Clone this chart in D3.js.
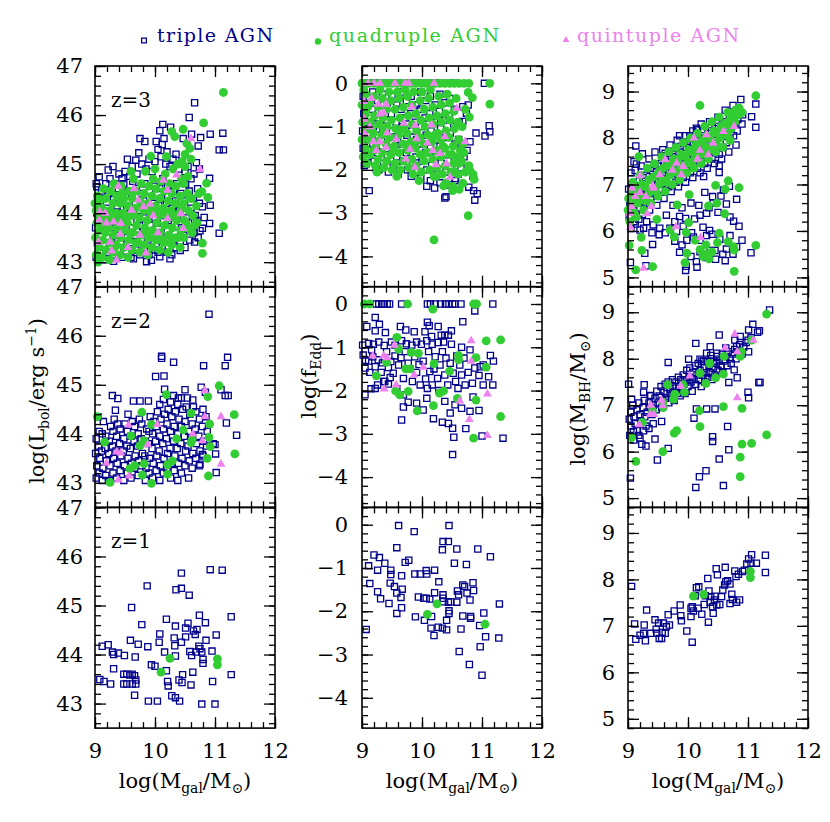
<!DOCTYPE html>
<html>
<head>
<meta charset="utf-8">
<script src="https://cdn.jsdelivr.net/npm/d3@7"></script>
<style>
body { margin: 0; background: #fff; }
text { font-family: "DejaVu Serif", serif; }
</style>
</head>
<body>
<svg width="830" height="822"></svg>
<script>
// ---- data: [log Mgal, value] ----

// z=3, log Lbol
const z3LbolTri = [
  [10.66,46.25],[10.57,45.95],[10.13,45.81],[10.26,45.75],[10.08,45.68],[9.75,45.52],[9.83,45.46],[10.02,45.46],
  [10.15,45.52],[10.47,45.52],[10.61,45.61],[10.76,45.54],[10.92,45.61],[11.13,45.63],[11.07,45.29],[11.14,45.29],
  [10.72,45.37],[9.73,45.23],[9.54,45.10],[9.68,45.08],[10.69,45.03],[10.74,44.90],[10.91,44.71],[10.79,44.13],
  [10.92,44.16],[10.82,43.91],[10.91,43.79],[10.79,43.69],[10.75,43.64],[11.07,43.59],[10.66,43.41],[10.42,43.24],
  [9.86,43.01],[9.94,43.04],[9.31,43.02],[9.64,43.07],[10.08,43.11],[10.25,43.07],[9.07,44.74],[9.22,44.88],[9.03,44.54],
  [9.30,44.95],[9.40,44.80],[9.45,44.70],[9.50,44.85],[9.58,44.75],[9.62,44.95],[9.70,44.80],[9.78,45.00],[9.85,44.90],
  [9.90,45.10],[9.95,44.85],[10.00,45.05],[10.05,45.30],[10.10,45.15],[10.12,45.40],[10.18,45.00],[10.20,45.25],
  [10.25,44.95],[10.30,45.10],[10.35,45.20],[10.40,44.90],[10.45,45.05],[10.50,44.85],[10.55,44.95],[10.60,44.70],[10.65,44.80],
  [9.02,43.1],[9.04,43.4],[9.01,43.7],[9.03,44.0],[9.05,44.3],[9.02,44.6],
  [9.08,43.2],[9.10,43.55],[9.07,43.85],[9.09,44.15],[9.11,44.45],
  [9.15,43.05],[9.14,43.35],[9.17,43.65],[9.16,44.0],[9.13,44.3],[9.18,44.6],
  [9.22,43.2],[9.20,43.5],[9.24,43.8],[9.21,44.1],[9.23,44.4],[9.25,44.7],
  [9.30,43.1],[9.28,43.4],[9.32,43.7],[9.29,44.0],[9.31,44.3],[9.33,44.6],
  [9.38,43.25],[9.36,43.55],[9.40,43.85],[9.37,44.15],[9.39,44.5],
  [9.45,43.1],[9.43,43.4],[9.47,43.7],[9.44,44.0],[9.46,44.3],[9.48,44.6],
  [9.52,43.2],[9.54,43.5],[9.51,43.8],[9.53,44.1],[9.55,44.45],
  [9.60,43.1],[9.58,43.4],[9.62,43.7],[9.59,44.0],[9.61,44.35],[9.63,44.65],
  [9.68,43.25],[9.66,43.55],[9.70,43.85],[9.67,44.2],[9.69,44.5],
  [9.75,43.15],[9.77,43.45],[9.74,43.75],[9.76,44.05],[9.78,44.4],
  [9.82,43.3],[9.80,43.6],[9.84,43.9],[9.81,44.25],[9.83,44.6],
  [9.90,43.15],[9.88,43.45],[9.92,43.75],[9.89,44.1],[9.91,44.45],
  [9.98,43.25],[9.96,43.55],[10.00,43.9],[9.97,44.2],[9.99,44.55],
  [10.05,43.2],[10.07,43.5],[10.04,43.8],[10.06,44.15],[10.08,44.5],
  [10.12,43.3],[10.10,43.6],[10.14,43.95],[10.11,44.3],[10.13,44.7],
  [10.20,43.2],[10.18,43.5],[10.22,43.85],[10.19,44.2],[10.21,44.55],
  [10.28,43.15],[10.30,43.45],[10.27,43.8],[10.29,44.1],[10.31,44.45],
  [10.35,43.3],[10.33,43.6],[10.37,43.9],[10.34,44.25],[10.36,44.6],
  [10.42,43.4],[10.44,43.7],[10.41,44.05],[10.43,44.4],
  [10.50,43.3],[10.48,43.55],[10.52,43.9],[10.49,44.25],[10.51,44.6],
  [10.58,43.45],[10.56,43.8],[10.60,44.1],[10.57,44.45],
  [10.65,43.6],[10.67,43.95],[10.64,44.3],
  [10.72,43.5],[10.70,43.85],[10.74,44.2],[10.71,44.5]
];
const z3LbolQuad = [
  [11.14,46.46],[10.81,45.84],[10.47,45.71],[10.33,45.56],[10.28,45.66],[9.93,45.16],[10.19,45.15],[10.53,45.42],
  [10.58,45.32],[10.50,45.20],[10.45,45.05],[10.60,45.10],[10.86,44.61],[10.78,44.44],[10.88,44.32],[11.14,43.73],
  [10.79,43.39],[10.79,43.18],[9.00,44.20],
  [9.02,43.15],[9.01,43.5],[9.03,43.8],[9.02,44.05],[9.04,44.35],
  [9.07,43.3],[9.08,43.65],[9.06,43.95],[9.08,44.25],
  [9.12,43.1],[9.13,43.45],[9.11,43.75],[9.12,44.1],[9.14,44.5],
  [9.18,43.25],[9.17,43.6],[9.19,43.9],[9.18,44.3],
  [9.24,43.05],[9.25,43.4],[9.23,43.7],[9.24,44.05],[9.26,44.45],
  [9.30,43.2],[9.31,43.55],[9.29,43.85],[9.30,44.2],[9.32,44.6],
  [9.36,43.35],[9.37,43.7],[9.35,44.0],[9.36,44.35],
  [9.42,43.15],[9.43,43.5],[9.41,43.85],[9.42,44.2],[9.44,44.55],
  [9.48,43.3],[9.49,43.65],[9.47,44.0],[9.48,44.3],
  [9.55,43.1],[9.56,43.45],[9.54,43.8],[9.55,44.15],[9.57,44.45],
  [9.62,43.25],[9.63,43.6],[9.61,43.95],[9.62,44.3],[9.64,44.7],
  [9.68,43.4],[9.69,43.75],[9.67,44.1],[9.68,44.45],
  [9.75,43.2],[9.76,43.55],[9.74,43.9],[9.75,44.25],[9.77,44.6],
  [9.82,43.35],[9.83,43.7],[9.81,44.05],[9.82,44.4],[9.84,44.85],
  [9.88,43.15],[9.89,43.5],[9.87,43.85],[9.88,44.2],[9.90,44.55],
  [9.95,43.3],[9.96,43.65],[9.94,44.0],[9.95,44.35],[9.97,44.7],
  [10.02,43.45],[10.03,43.8],[10.01,44.15],[10.02,44.5],
  [10.08,43.25],[10.09,43.6],[10.07,43.95],[10.08,44.3],[10.10,44.65],
  [10.15,43.4],[10.16,43.75],[10.14,44.1],[10.15,44.45],[10.17,44.8],
  [10.22,43.2],[10.23,43.55],[10.21,43.9],[10.22,44.25],[10.24,44.6],
  [10.28,43.35],[10.29,43.7],[10.27,44.05],[10.28,44.4],[10.30,44.9],
  [10.35,43.5],[10.36,43.85],[10.34,44.2],[10.35,44.55],
  [10.42,43.3],[10.43,43.65],[10.41,44.0],[10.42,44.35],[10.44,44.7],
  [10.48,43.5],[10.49,43.85],[10.47,44.2],[10.48,44.6],[10.50,44.95],
  [10.55,43.7],[10.56,44.05],[10.54,44.4],[10.55,44.75],
  [10.62,43.6],[10.63,43.95],[10.61,44.3],
  [10.70,43.8],[10.69,44.15],
  [9.05,43.0],[9.15,43.9],[9.27,43.95],[9.33,43.3],[9.45,44.4],[9.52,43.95],[9.59,43.6],[9.65,44.0],[9.72,43.4],
  [9.79,44.15],[9.85,43.6],[9.92,44.05],[9.99,43.5],[10.05,44.0],[10.12,43.45],[10.19,44.0],[10.25,43.4],[10.32,43.95],
  [10.39,43.5],[10.45,44.1],[10.52,43.8],[10.58,44.3],[10.66,43.75],[10.73,44.4],[9.60,44.85],[10.00,44.9],[10.38,45.0]
];
const z3LbolQuin = [
  [9.08,44.03],[9.07,43.86],[9.19,43.80],[9.31,43.82],[9.43,43.79],[9.42,43.57],[9.17,44.0],[9.39,44.55],[9.61,44.06],
  [9.72,44.27],[9.81,44.13],[9.92,44.18],[9.97,43.95],[9.75,43.55],[9.25,43.41],[9.28,43.23],[9.36,43.04],[9.85,43.19],
  [10.21,43.89],[10.36,44.78],[10.21,44.47],[10.14,44.67],[10.43,43.99],[10.47,43.69],[10.75,44.89],[10.60,45.52],
  [9.06,43.41],[9.55,43.3],[10.05,43.6],[9.65,44.5]
];

// z=3, log fEdd
const z3FeddTri = [
  [9.02,0],[9.08,0],[9.15,0],[9.22,0],[9.30,0],[9.38,0],[9.46,0],[9.55,0],[9.62,0],[9.70,0],[9.78,0],[9.85,0],
  [9.93,0],[10.00,0],[10.10,0],[10.20,0],[10.30,0],[10.45,0],[10.55,0],[11.04,0],
  [11.12,-0.98],[11.13,-1.12],[11.05,-1.22],[10.90,-1.15],[10.85,-2.15],[10.78,-2.40],[10.86,-2.48],[10.92,-2.55],
  [10.88,-2.70],[9.12,-2.48],[10.38,-2.65],[10.40,-2.62],[10.21,-2.42],[10.08,-2.38],[10.77,-0.50],[10.68,-0.54],
  [10.74,-0.69],[10.68,-0.88],[9.24,-1.98],[9.07,-1.86],[10.70,-1.70],[10.75,-1.55],[10.80,-1.35],[10.65,-1.95],
  [10.55,-2.25],[10.60,-2.10],
  [9.02,-0.3],[9.03,-0.7],[9.01,-1.1],[9.02,-1.5],[9.04,-1.9],
  [9.10,-0.5],[9.09,-0.9],[9.11,-1.3],[9.10,-1.7],
  [9.18,-0.2],[9.17,-0.6],[9.19,-1.0],[9.18,-1.4],[9.20,-1.8],
  [9.26,-0.4],[9.25,-0.8],[9.27,-1.2],[9.26,-1.6],[9.28,-2.0],
  [9.34,-0.25],[9.33,-0.65],[9.35,-1.05],[9.34,-1.45],[9.36,-1.85],
  [9.42,-0.45],[9.41,-0.85],[9.43,-1.25],[9.42,-1.65],[9.44,-2.05],
  [9.50,-0.3],[9.49,-0.7],[9.51,-1.1],[9.50,-1.5],[9.52,-1.9],
  [9.58,-0.5],[9.57,-0.9],[9.59,-1.3],[9.58,-1.7],[9.60,-2.1],
  [9.66,-0.2],[9.65,-0.6],[9.67,-1.0],[9.66,-1.4],[9.68,-1.8],
  [9.74,-0.4],[9.73,-0.8],[9.75,-1.2],[9.74,-1.6],[9.76,-2.0],
  [9.82,-0.3],[9.81,-0.7],[9.83,-1.1],[9.82,-1.5],[9.84,-1.9],[9.82,-2.15],
  [9.90,-0.5],[9.89,-0.9],[9.91,-1.3],[9.90,-1.7],[9.92,-2.05],
  [9.98,-0.2],[9.97,-0.6],[9.99,-1.0],[9.98,-1.4],[10.00,-1.8],[9.98,-2.2],
  [10.06,-0.4],[10.05,-0.8],[10.07,-1.2],[10.06,-1.6],[10.08,-2.0],
  [10.14,-0.3],[10.13,-0.7],[10.15,-1.1],[10.14,-1.5],[10.16,-1.9],[10.14,-2.25],
  [10.22,-0.5],[10.21,-0.9],[10.23,-1.3],[10.22,-1.7],[10.24,-2.1],
  [10.30,-0.25],[10.29,-0.65],[10.31,-1.05],[10.30,-1.45],[10.32,-1.85],[10.30,-2.3],
  [10.38,-0.45],[10.37,-0.85],[10.39,-1.25],[10.38,-1.65],[10.40,-2.05],
  [10.46,-0.35],[10.45,-0.75],[10.47,-1.15],[10.46,-1.55],[10.48,-1.95],[10.46,-2.35],
  [10.54,-0.6],[10.53,-1.0],[10.55,-1.4],[10.54,-1.8],[10.56,-2.2],
  [10.62,-0.9],[10.61,-1.3],[10.63,-1.7]
];
const z3FeddQuad = [
  [9.00,0],[9.05,0],[9.12,0],[9.20,0],[9.28,0],[9.35,0],[9.42,0],[9.50,0],[9.58,0],[9.66,0],[9.74,0],[9.82,0],
  [9.90,0],[9.98,0],[10.06,0],[10.14,0],[10.22,0],[10.30,0],[10.38,0],[10.46,0],[10.54,0],[10.62,0],[10.70,0],
  [10.78,0],[11.13,0],
  [11.13,-0.48],[10.77,-0.21],[10.84,-0.33],[10.79,-0.78],[10.78,-1.90],[10.80,-2.02],[10.85,-2.10],[10.87,-2.22],
  [10.68,-2.31],[10.51,-2.38],[10.51,-2.48],[10.36,-2.37],[10.24,-2.15],[10.77,-3.06],[10.20,-3.62],[10.62,-1.85],
  [10.70,-1.60],[10.55,-2.05],
  [9.00,-0.5],[9.01,-0.9],[9.00,-1.3],[9.02,-1.7],
  [9.06,-0.25],[9.07,-0.7],[9.05,-1.1],[9.06,-1.5],[9.08,-1.85],
  [9.13,-0.45],[9.14,-0.9],[9.12,-1.3],[9.13,-1.65],
  [9.20,-0.3],[9.21,-0.75],[9.19,-1.15],[9.20,-1.55],[9.22,-1.9],
  [9.27,-0.55],[9.28,-0.95],[9.26,-1.35],[9.27,-1.75],
  [9.34,-0.35],[9.35,-0.8],[9.33,-1.2],[9.34,-1.6],[9.36,-1.95],
  [9.41,-0.6],[9.42,-1.0],[9.40,-1.4],[9.41,-1.8],
  [9.48,-0.4],[9.49,-0.85],[9.47,-1.25],[9.48,-1.65],[9.50,-2.0],
  [9.55,-0.6],[9.56,-1.05],[9.54,-1.45],[9.55,-1.85],
  [9.62,-0.35],[9.63,-0.8],[9.61,-1.2],[9.62,-1.6],[9.64,-2.0],
  [9.69,-0.55],[9.70,-1.0],[9.68,-1.4],[9.69,-1.8],
  [9.76,-0.3],[9.77,-0.75],[9.75,-1.15],[9.76,-1.55],[9.78,-1.95],
  [9.83,-0.5],[9.84,-0.95],[9.82,-1.35],[9.83,-1.75],[9.85,-2.1],
  [9.90,-0.7],[9.91,-1.1],[9.89,-1.5],[9.90,-1.9],
  [9.97,-0.4],[9.98,-0.85],[9.96,-1.25],[9.97,-1.65],[9.99,-2.05],
  [10.04,-0.6],[10.05,-1.0],[10.03,-1.4],[10.04,-1.8],
  [10.11,-0.35],[10.12,-0.8],[10.10,-1.2],[10.11,-1.6],[10.13,-2.0],
  [10.18,-0.55],[10.19,-0.95],[10.17,-1.35],[10.18,-1.75],[10.20,-2.15],
  [10.25,-0.75],[10.26,-1.15],[10.24,-1.55],[10.25,-1.95],
  [10.32,-0.5],[10.33,-0.9],[10.31,-1.3],[10.32,-1.7],[10.34,-2.1],
  [10.39,-0.7],[10.40,-1.1],[10.38,-1.5],[10.39,-1.9],
  [10.46,-0.45],[10.47,-0.85],[10.45,-1.25],[10.46,-1.65],[10.48,-2.05],
  [10.53,-0.65],[10.54,-1.05],[10.52,-1.45],[10.53,-1.85],
  [10.60,-0.9],[10.61,-1.3],[10.59,-1.7],[10.60,-2.1],
  [10.67,-1.0],[10.68,-1.4],[10.66,-1.8],
  [9.03,-0.15],[9.09,-0.55],[9.16,-1.05],[9.23,-1.45],[9.30,-0.15],[9.37,-1.1],[9.45,-0.2],[9.52,-1.5],[9.59,-0.2],
  [9.66,-1.05],[9.72,-0.15],[9.79,-1.4],[9.86,-0.2],[9.93,-1.3],[10.00,-0.2],[10.07,-1.6],[10.14,-0.15],[10.21,-1.2],
  [10.28,-0.3],[10.35,-1.45],[10.42,-0.25],[10.50,-1.65],[10.57,-0.35],[10.64,-1.55],[10.72,-0.6],[9.25,-2.05],
  [9.58,-2.15],[9.95,-2.25],[10.40,-2.30],[10.62,-2.45],[10.72,-2.05]
];
const z3FeddQuin = [
  [9.10,0],[9.20,0],[9.30,0],[9.55,0],[9.72,0],[9.78,0],[10.20,0],[9.03,-0.42],[9.16,-0.35],[9.40,-0.48],[9.27,-0.48],
  [9.04,-0.83],[9.30,-0.71],[9.36,-0.68],[9.13,-1.0],[9.05,-1.17],[9.42,-1.14],[9.30,-1.35],[9.19,-1.35],[9.24,-1.55],
  [9.40,-1.48],[9.57,-1.29],[9.70,-0.92],[9.83,-0.54],[9.89,-0.97],[10.16,-0.96],[9.91,-1.28],[9.80,-1.52],[9.73,-1.75],
  [9.88,-1.94],[10.09,-1.38],[10.18,-1.55],[10.41,-1.86],[10.58,-0.58],[10.47,-2.17],[10.30,-1.62],[10.23,-1.88],
  [10.38,-1.23],[10.72,-1.35]
];

// z=3, log MBH
const z3MbhTri = [
  [10.88,8.83],[11.13,8.73],[11.06,8.46],[11.13,8.23],[10.75,8.70],[10.82,8.60],[9.13,7.83],[9.10,7.49],[9.14,7.44],
  [9.24,7.66],[9.86,8.05],[10.03,8.05],[10.14,8.21],[10.16,8.18],[9.62,7.67],
  [10.26,7.17],[10.28,6.83],[10.41,6.74],[10.59,6.88],[10.64,6.58],[10.81,6.68],[10.69,6.96],[10.52,7.40],[10.52,7.26],
  [10.76,6.21],[10.81,5.66],[11.05,5.53],[10.62,5.36],[10.46,5.39],[10.30,5.43],[10.15,5.22],[9.96,5.15],[9.97,5.24],
  [9.86,5.54],[9.41,5.71],[9.52,5.92],[9.28,5.52],[9.04,5.32],[9.30,5.25],[10.14,5.34],[10.31,5.48],[10.37,5.58],
  [10.45,5.58],[9.98,5.80],[10.09,5.87],[10.20,5.80],[10.31,5.90],[10.40,5.93],[10.53,5.82],[10.64,5.61],[9.64,6.34],
  [9.78,6.20],[9.86,6.31],[9.96,6.27],[10.11,6.26],[10.20,6.34],[10.31,6.38],[9.70,6.06],[9.81,5.99],[9.92,6.10],
  [9.53,6.06],[9.42,6.13],[9.31,6.20],[9.26,6.06],[9.20,6.02],[9.40,5.96],[9.62,5.96],[9.78,5.78],[10.06,5.96],
  [10.25,6.08],[10.36,6.01],[10.42,6.60],[10.50,6.40],[10.55,6.75],[10.35,6.50],[10.18,6.55],[10.05,6.60],[9.90,6.50],
  [9.75,6.55],[10.70,6.30],[10.85,6.10],[10.90,5.80],[10.70,5.90],[10.58,5.50],[10.75,5.50],[10.20,5.55],[10.05,5.45],[9.90,5.70],
  [9.05,6.05],[9.12,6.15],[9.18,6.25],
  [9.02,6.3],[9.03,6.6],[9.01,6.9],[9.08,6.45],[9.09,6.75],[9.07,7.0],[9.14,6.35],[9.15,6.65],[9.13,6.95],
  [9.20,6.5],[9.21,6.8],[9.19,7.1],[9.26,6.6],[9.27,6.9],[9.25,7.15],[9.32,6.55],[9.33,6.85],[9.31,7.2],
  [9.38,6.7],[9.39,7.0],[9.37,7.3],[9.44,6.8],[9.45,7.05],[9.43,7.35],[9.50,6.75],[9.51,7.1],[9.49,7.4],
  [9.56,6.9],[9.57,7.2],[9.55,7.45],[9.62,7.0],[9.63,7.25],[9.61,7.5],[9.68,6.95],[9.69,7.3],[9.67,7.55],
  [9.74,7.1],[9.75,7.35],[9.73,7.6],[9.80,7.05],[9.81,7.4],[9.79,7.65],[9.86,7.2],[9.87,7.45],[9.85,7.7],
  [9.92,7.15],[9.93,7.5],[9.91,7.75],[9.98,7.3],[9.99,7.55],[9.97,7.8],[10.04,7.25],[10.05,7.6],[10.03,7.85],
  [10.10,7.4],[10.11,7.65],[10.09,7.9],[10.16,7.35],[10.17,7.7],[10.15,7.95],[10.22,7.5],[10.23,7.75],[10.21,8.0],
  [10.28,7.45],[10.29,7.8],[10.27,8.05],[10.34,7.6],[10.35,7.85],[10.33,8.1],[10.40,7.55],[10.41,7.9],[10.39,8.15],
  [10.46,7.7],[10.47,7.95],[10.45,8.2],[10.52,7.65],[10.53,8.0],[10.51,8.25],[10.58,7.8],[10.59,8.05],[10.57,8.3],
  [10.64,7.9],[10.65,8.15],[10.63,8.35],[10.70,8.0],[10.71,8.2],[10.69,8.45],[10.76,8.05],[10.77,8.3],[10.75,8.5],
  [10.82,8.15],[10.83,8.4],[10.81,8.6],[10.90,8.3],[10.91,8.5],
  [9.05,7.25],[9.12,7.3],[9.22,7.4],[9.35,7.55],[9.45,7.7],[9.58,7.75],[9.70,7.85],[9.82,7.95],[9.95,8.05],
  [10.08,8.15],[10.22,8.3],[10.36,8.35],[10.50,8.45],[10.62,8.6],[9.10,6.2],[9.24,6.35],[9.36,6.45],[9.48,6.55],
  [9.60,6.7],[9.72,6.85],[9.84,6.95],[9.96,7.05],[10.08,7.15],[10.20,7.25],[10.32,7.35],[10.44,7.45],[10.56,7.55],
  [10.68,7.7],[10.80,7.85]
];
const z3MbhQuad = [
  [11.13,8.91],[10.20,8.70],[9.18,7.60],[10.85,6.93],[10.67,7.08],[10.62,6.90],[10.46,6.98],[10.48,6.60],[10.61,6.37],
  [10.34,6.54],[10.02,6.78],[9.82,6.56],[9.48,6.25],[9.70,6.02],[9.77,5.87],[9.22,5.86],[9.02,5.69],[9.23,5.58],
  [9.13,5.16],[9.41,5.23],[9.97,5.97],[10.01,6.18],[9.98,5.52],[10.12,5.80],[10.20,5.60],[10.25,5.45],[10.30,5.50],
  [10.52,5.95],[10.49,5.75],[10.67,5.77],[10.77,5.59],[10.76,5.66],[11.13,5.69],[10.77,5.13],[9.95,5.32],[10.30,5.70],
  [10.35,5.40],[10.40,5.55],
  [9.00,6.45],[9.01,6.7],[9.05,6.55],[9.06,6.85],[9.10,6.4],[9.11,6.7],[9.16,6.6],[9.17,6.9],[9.22,6.7],[9.23,7.0],
  [9.28,6.65],[9.29,6.95],[9.34,6.8],[9.35,7.1],[9.40,6.9],[9.41,7.15],[9.46,6.85],[9.47,7.2],[9.52,7.0],[9.53,7.3],
  [9.58,7.1],[9.59,7.35],[9.64,7.05],[9.65,7.4],[9.70,7.2],[9.71,7.45],[9.76,7.3],[9.77,7.55],[9.82,7.25],[9.83,7.5],
  [9.88,7.4],[9.89,7.65],[9.94,7.35],[9.95,7.6],[10.00,7.5],[10.01,7.75],[10.06,7.45],[10.07,7.7],[10.12,7.6],[10.13,7.85],
  [10.18,7.7],[10.19,7.9],[10.24,7.65],[10.25,7.95],[10.30,7.8],[10.31,8.05],[10.36,7.75],[10.37,8.0],[10.42,7.9],[10.43,8.15],
  [10.48,7.85],[10.49,8.1],[10.54,8.0],[10.55,8.25],[10.60,8.1],[10.61,8.3],[10.66,8.05],[10.67,8.35],[10.72,8.2],[10.73,8.45],
  [10.78,8.35],[10.79,8.6],[10.84,8.5],[10.85,8.65],[10.90,8.55],
  [9.03,6.2],[9.14,6.3],[9.26,6.45],[9.38,6.6],[9.50,6.75],[9.62,6.85],[9.74,7.0],[9.86,7.1],[9.98,7.25],[10.10,7.35],
  [10.22,7.45],[10.34,7.55],[10.46,7.7],[10.58,7.8],[10.70,7.95],[9.08,7.05],[9.20,7.2],[9.32,7.35],[9.44,7.45],
  [9.56,7.6],[9.68,7.7],[9.80,7.8],[9.92,7.9],[10.04,8.0],[10.16,8.1],[10.28,8.25],[10.40,8.35],[10.52,8.45],[10.66,8.55]
];
const z3MbhQuin = [
  [9.07,6.92],[9.12,6.74],[9.20,6.83],[9.30,6.74],[9.06,6.53],[9.03,6.38],[9.04,6.08],[9.32,6.37],[9.39,6.53],[9.43,6.92],
  [9.53,7.21],[9.62,7.54],[9.74,7.31],[9.81,7.46],[9.92,7.39],[9.89,7.21],[10.16,7.55],[10.20,7.74],[10.34,7.64],
  [10.42,7.89],[10.31,8.07],[10.59,8.14],[10.77,8.25],[10.10,8.00],[9.26,5.20],[10.21,5.86],[9.80,6.09],[9.20,7.19],[9.41,6.97]
];

// z=2, log Lbol
const z2LbolTri = [
  [10.90,46.44],[10.11,45.58],[10.11,45.54],[10.31,45.46],[10.81,45.39],[11.21,45.56],[11.17,45.39],[10.01,45.17],
  [10.15,45.18],[9.29,44.78],[9.38,44.72],[9.64,44.67],[9.75,44.67],[9.89,44.67],[9.34,44.48],[10.77,44.95],
  [10.84,44.85],[11.10,44.90],[11.17,44.78],[11.22,44.78],[10.16,44.91],[10.50,44.90],[10.31,44.78],[10.39,44.73],
  [10.44,44.73],[10.54,44.73],[10.63,44.69],[11.19,44.22],[11.36,43.97],[11.01,43.59],[11.02,43.21],[10.75,43.38],
  [10.79,43.58],[10.97,43.80],[11.00,43.78],[9.05,44.35],[9.55,44.4],
  [9.02,43.1],[9.03,43.35],[9.01,43.6],[9.02,43.9],
  [9.07,43.2],[9.08,43.5],[9.06,43.75],[9.07,44.05],
  [9.12,43.05],[9.13,43.3],[9.11,43.65],[9.12,44.0],[9.14,44.25],
  [9.18,43.15],[9.19,43.45],[9.17,43.7],[9.18,43.95],
  [9.24,43.05],[9.25,43.35],[9.23,43.6],[9.24,43.85],[9.26,44.15],
  [9.30,43.2],[9.31,43.5],[9.29,43.75],[9.30,44.05],[9.32,44.3],
  [9.36,43.1],[9.37,43.4],[9.35,43.65],[9.36,43.95],[9.38,44.2],
  [9.42,43.25],[9.43,43.55],[9.41,43.8],[9.42,44.1],
  [9.48,43.05],[9.49,43.35],[9.47,43.65],[9.48,43.9],[9.50,44.2],
  [9.54,43.2],[9.55,43.5],[9.53,43.75],[9.54,44.05],
  [9.60,43.1],[9.61,43.4],[9.59,43.7],[9.60,43.95],[9.62,44.25],
  [9.66,43.3],[9.67,43.55],[9.65,43.85],[9.66,44.15],
  [9.72,43.15],[9.73,43.45],[9.71,43.75],[9.72,44.0],[9.74,44.3],
  [9.78,43.35],[9.79,43.6],[9.77,43.9],[9.78,44.2],
  [9.84,43.05],[9.85,43.3],[9.83,43.55],[9.84,43.85],[9.86,44.1],
  [9.90,43.2],[9.91,43.5],[9.89,43.8],[9.90,44.05],[9.92,44.35],
  [9.96,43.1],[9.97,43.4],[9.95,43.7],[9.96,44.0],[9.98,44.25],
  [10.02,43.25],[10.03,43.55],[10.01,43.85],[10.02,44.15],[10.04,44.45],
  [10.08,43.05],[10.09,43.35],[10.07,43.65],[10.08,43.95],[10.10,44.3],[10.08,44.6],
  [10.14,43.2],[10.15,43.5],[10.13,43.8],[10.14,44.1],[10.16,44.4],[10.14,44.7],
  [10.20,43.3],[10.21,43.6],[10.19,43.9],[10.20,44.2],[10.22,44.5],
  [10.26,43.1],[10.27,43.4],[10.25,43.7],[10.26,44.05],[10.28,44.35],[10.26,44.65],
  [10.32,43.25],[10.33,43.55],[10.31,43.85],[10.32,44.15],[10.34,44.45],
  [10.38,43.05],[10.39,43.4],[10.37,43.7],[10.38,44.0],[10.40,44.3],[10.38,44.6],
  [10.44,43.2],[10.45,43.5],[10.43,43.8],[10.44,44.15],[10.46,44.5],
  [10.50,43.35],[10.51,43.65],[10.49,43.95],[10.50,44.25],[10.52,44.55],
  [10.56,43.1],[10.57,43.45],[10.55,43.75],[10.56,44.05],[10.58,44.4],
  [10.62,43.3],[10.63,43.6],[10.61,43.9],[10.62,44.2],[10.64,44.55],
  [10.68,43.5],[10.69,43.8],[10.67,44.1],[10.68,44.45],
  [10.74,43.35],[10.75,43.65],[10.73,43.95],[10.74,44.3],
  [10.80,43.55],[10.81,43.85],[10.79,44.15],[10.80,44.5],
  [10.86,43.75],[10.87,44.05],[10.85,44.35]
];
const z2LbolQuad = [
  [9.04,44.35],[9.16,43.83],[9.25,43.01],[9.58,43.29],[9.66,43.35],[9.60,43.96],[9.75,43.76],[9.82,43.86],[9.78,44.44],
  [9.82,43.39],[9.79,43.16],[9.94,42.99],[9.94,44.19],[10.19,44.80],[10.21,43.37],[10.21,43.18],[10.29,43.45],
  [10.36,43.90],[10.47,44.08],[10.60,44.42],[10.60,43.82],[10.62,43.88],[10.88,44.76],[10.90,43.93],[10.91,44.20],
  [10.92,43.74],[10.87,43.50],[10.89,43.14],[11.07,44.98],[11.33,43.59],[11.32,44.39]
];
const z2LbolQuin = [
  [9.56,44.18],[9.36,43.63],[9.43,43.61],[9.19,43.40],[9.39,43.06],[9.57,43.14],[9.88,43.78],[10.04,44.19],
  [10.63,44.00],[10.79,43.86],[10.83,44.35],[10.83,44.88],[11.10,44.35],[11.10,43.38]
];

// z=2, log fEdd
const z2FeddTri = [
  [9.24,0],[9.28,0],[9.33,0],[9.37,0],[9.42,0],[9.46,0],[9.66,0],[10.09,0],[10.14,0],[10.22,0],[10.31,0],[10.39,0],
  [10.45,0],[10.51,0],[10.55,0],[10.65,0],[11.18,0],
  [9.22,-0.31],[9.08,-0.52],[9.22,-0.62],[9.29,-0.47],[9.39,-0.66],[9.64,-0.52],[9.73,-0.60],[9.87,-0.64],[10.09,-0.42],
  [10.12,-0.50],[10.27,-0.52],[10.49,-0.62],[10.68,-0.41],[10.88,-0.16],[10.05,-0.64],[10.16,-0.75],[10.32,-0.72],
  [10.38,-0.72],[10.44,-0.72],[9.01,-0.95],[9.11,-0.91],[9.19,-0.93],[9.28,-0.88],[9.37,-0.96],[9.49,-0.88],[9.55,-0.95],
  [9.66,-0.85],[9.74,-0.92],[9.83,-0.95],[9.91,-0.88],[9.99,-0.93],[10.08,-0.85],[10.17,-0.93],[10.27,-0.89],[10.36,-0.88],
  [10.49,-0.93],[10.66,-1.00],
  [9.02,-1.18],[9.11,-1.32],[9.05,-1.48],[9.13,-1.58],[9.22,-1.45],[9.27,-1.29],[9.32,-1.58],[9.44,-1.47],[9.48,-1.33],
  [9.52,-1.60],[9.61,-1.41],[9.65,-1.24],[9.69,-1.72],[9.77,-1.37],[9.84,-1.79],[9.88,-1.22],[9.91,-1.58],[9.97,-1.87],
  [10.02,-1.32],[10.06,-1.73],[10.11,-1.10],[10.13,-1.56],[10.17,-1.87],[10.22,-1.22],[10.26,-1.72],[10.30,-1.41],
  [10.34,-1.10],[10.38,-1.64],[10.43,-1.87],[10.47,-1.37],[10.52,-1.60],[10.56,-1.79],[10.63,-1.41],[10.66,-1.64],
  [10.72,-1.87],[10.77,-1.58],[10.84,-1.83],[10.88,-1.48],[10.95,-1.65],[11.02,-1.87],[11.02,-1.41],[10.80,-1.06],
  [9.72,-1.10],[9.41,-1.10],[9.16,-1.06],[9.58,-1.96],[9.38,-1.79],[9.22,-1.95],
  [9.05,-2.10],[9.15,-1.96],[9.26,-1.87],[9.36,-1.79],[9.44,-1.85],[9.69,-2.10],[9.77,-2.27],[9.69,-2.38],[9.91,-2.29],
  [10.02,-2.45],[10.08,-2.18],[10.19,-2.65],[10.38,-2.25],[10.47,-2.52],[10.55,-2.33],[10.66,-2.41],[10.80,-2.48],
  [10.95,-2.46],[10.73,-2.88],[10.34,-2.73],[10.44,-2.76],[10.51,-2.87],[10.53,-3.08],[11.00,-3.05],[11.35,-3.10],
  [9.66,-2.68],[10.51,-3.48],[11.19,-1.32],[11.14,-1.19],[11.11,-1.68],[11.18,-1.87],[10.97,-1.45],
  [9.06,-1.30],[9.18,-1.22],[9.34,-1.36],[9.55,-1.20],[9.80,-1.50],[9.95,-1.40],[10.20,-1.50],[10.40,-1.25],
  [10.58,-1.20],[10.70,-1.25],[9.47,-1.70],[10.09,-1.95],[10.28,-2.00],[10.60,-1.95],[10.85,-2.15]
];
const z2FeddQuad = [
  [9.04,0],[9.13,0],[9.76,0],[10.86,0],[10.91,0],[10.18,-0.12],
  [9.58,-0.77],[9.61,-1.04],[9.82,-1.12],[9.94,-1.14],[9.41,-1.35],[9.73,-1.50],[9.80,-1.50],[10.20,-1.38],[9.24,-1.66],
  [10.46,-1.55],[10.61,-1.19],[10.61,-1.29],[10.90,-1.24],[11.07,-1.46],[11.07,-0.85],[11.31,-0.83],[9.56,-2.01],
  [9.63,-2.10],[9.77,-2.02],[10.29,-2.06],[10.36,-2.01],[10.59,-2.18],[10.90,-2.22],[10.19,-2.35],[9.92,-2.47],
  [11.31,-2.60],[10.86,-3.10]
];
const z2FeddQuin = [
  [9.18,-1.20],[9.36,-1.20],[9.42,-1.24],[9.54,-0.95],[10.02,-1.46],[9.87,-1.64],[9.57,-1.87],[9.37,-1.96],
  [10.82,-0.85],[10.82,-1.32],[10.63,-2.24],[10.79,-2.67],[11.09,-2.08],[11.09,-3.04]
];

// z=2, log MBH
const z2MbhTri = [
  [11.36,9.05],[11.08,8.74],[11.19,8.60],[11.16,8.57],[11.01,8.62],[10.87,8.48],[10.52,8.51],[10.13,8.33],[10.37,8.26],
  [10.78,8.40],[10.81,8.26],[11.01,8.15],[10.63,8.23],[10.48,8.12],[10.31,8.12],[10.38,8.07],[10.01,7.99],[9.67,7.92],
  [10.20,7.99],[10.26,7.94],[10.77,7.76],[10.82,7.59],[10.68,7.49],[11.18,7.49],[11.20,7.49],[11.00,7.28],[11.01,7.16],
  [9.27,7.44],[9.01,7.45],[9.06,7.13],[9.26,7.28],[9.37,7.21],[9.56,6.65],[9.45,6.27],[9.67,6.07],[10.10,6.72],
  [10.14,6.92],[10.31,6.92],[10.45,6.92],[10.66,6.54],[10.41,6.32],[10.41,6.22],[10.68,6.04],[10.52,5.84],[9.49,5.82],
  [10.30,5.59],[10.19,5.46],[10.13,5.23],[10.59,5.27],[9.04,5.43],[9.09,6.43],[9.20,6.29],[9.30,6.12],[9.23,6.16],
  [9.03,6.35],[9.10,6.25],[9.18,6.35],[9.26,6.45],[9.35,6.50],[9.42,6.60],
  [9.02,6.70],[9.05,6.85],[9.05,6.55],[9.08,7.00],[9.10,6.75],[9.12,6.60],[9.15,6.90],[9.15,6.45],[9.18,7.05],[9.20,6.80],
  [9.22,6.65],[9.25,6.95],[9.27,7.10],[9.28,6.75],[9.30,6.55],[9.32,6.85],[9.35,7.05],[9.37,6.95],[9.38,7.20],[9.40,6.80],
  [9.42,7.00],[9.45,7.15],[9.47,6.90],[9.48,7.30],[9.50,7.05],[9.52,7.20],[9.55,7.40],[9.56,6.95],[9.58,7.10],[9.60,7.30],
  [9.62,7.45],[9.63,7.15],[9.65,7.25],[9.67,7.50],[9.68,7.05],[9.70,7.35],[9.72,7.20],[9.74,7.55],[9.75,7.40],[9.77,7.10],
  [9.78,7.30],[9.80,7.50],[9.82,7.25],[9.84,7.60],[9.85,7.40],[9.87,7.20],[9.88,7.55],[9.90,7.35],[9.92,7.65],[9.93,7.45],
  [9.95,7.25],[9.97,7.55],[9.98,7.75],[10.00,7.40],[10.02,7.60],[10.03,7.80],[10.05,7.50],[10.07,7.30],[10.08,7.70],
  [10.10,7.55],[10.12,7.85],[10.13,7.45],[10.15,7.65],[10.17,7.90],[10.18,7.55],[10.20,7.75],[10.22,7.40],[10.23,7.95],
  [10.25,7.65],[10.27,7.80],[10.28,7.50],[10.30,7.70],[10.32,7.95],[10.33,7.60],[10.35,7.85],[10.37,7.70],[10.38,8.00],
  [10.40,7.55],[10.42,7.80],[10.43,7.95],[10.45,7.65],[10.47,7.90],[10.48,8.05],[10.50,7.75],[10.52,7.95],[10.55,7.85],
  [10.57,8.10],[10.58,7.70],[10.60,7.95],[10.63,8.05],[10.65,7.85],[10.67,8.15],[10.70,8.00],[10.72,7.90],[10.75,8.10],
  [10.78,8.20],[10.80,8.00],[10.83,8.15],[10.86,8.30],[10.90,8.10],[10.93,8.25],[10.97,8.35],[11.00,8.40],[11.05,8.45]
];
const z2MbhQuad = [
  [11.31,8.96],[11.06,8.40],[10.89,8.15],[10.87,8.05],[10.60,8.05],[10.36,7.90],[10.20,7.69],[10.46,7.59],[10.59,7.67],
  [10.30,7.47],[9.66,7.44],[9.92,7.44],[9.94,7.28],[9.78,7.24],[9.76,7.13],[9.58,7.06],[9.59,6.95],[9.41,6.88],
  [9.24,6.63],[9.06,6.30],[10.19,6.88],[10.59,6.97],[10.90,6.93],[10.20,6.54],[9.81,6.45],[9.77,6.40],[9.58,6.00],
  [9.13,5.79],[10.90,6.16],[11.06,6.18],[11.31,6.36],[10.87,5.88],[10.87,5.46]
];
const z2MbhQuin = [
  [10.78,8.53],[11.09,8.40],[10.82,8.15],[10.62,8.23],[10.03,7.63],[9.88,7.41],[9.56,7.11],[9.58,6.99],[9.38,7.00],
  [9.37,6.80],[9.43,6.80],[9.19,6.58],[10.82,7.16]
];

// z=1, log Lbol
const z1LbolTri = [
  [9.08,43.49],[9.15,43.45],[9.26,43.40],[9.12,44.17],[9.22,44.20],[9.29,44.05],[9.31,44.00],[9.39,44.03],[9.31,43.71],
  [9.48,43.40],[9.48,43.60],[9.53,43.60],[9.58,43.58],[9.62,43.60],[9.66,43.57],[9.68,43.48],[9.68,43.40],[9.62,43.40],
  [9.53,43.40],[9.49,43.98],[9.67,43.95],[9.59,44.29],[9.72,44.21],[9.61,44.96],[9.78,44.61],[9.66,43.17],[9.88,44.16],
  [9.87,45.40],[9.89,43.05],[9.94,43.79],[10.00,43.76],[10.04,43.05],[10.07,44.25],[10.08,44.42],[10.16,44.05],
  [10.19,43.67],[10.21,43.45],[10.22,43.36],[10.19,44.72],[10.34,44.58],[10.32,44.34],[10.33,44.18],[10.34,43.97],
  [10.28,43.16],[10.34,43.12],[10.35,45.32],[10.44,45.35],[10.44,45.66],[10.51,44.54],[10.44,44.25],[10.46,43.59],
  [10.41,43.05],[10.40,43.48],[10.45,43.43],[10.51,44.36],[10.55,44.64],[10.57,45.21],[10.58,44.06],[10.61,43.98],
  [10.63,43.64],[10.60,43.38],[10.67,44.41],[10.69,44.05],[10.70,44.51],[10.73,44.17],[10.78,44.05],[10.80,43.90],
  [10.80,43.82],[10.75,44.12],[10.74,44.80],[10.78,42.99],[10.84,44.65],[10.85,44.29],[10.92,45.73],[10.95,44.07],
  [10.96,43.45],[11.00,42.99],[11.02,44.40],[11.12,45.72],[11.27,44.77],[11.27,43.59],[10.64,44.48]
];
const z1LbolQuad = [[10.25,43.92],[10.10,43.64],[11.04,43.91],[11.04,43.79]];
const z1LbolQuin = [];

// z=1, log fEdd
const z1FeddTri = [
  [9.61,-0.02],[9.87,-0.16],[10.45,-0.02],[9.58,-0.53],[10.35,-0.39],[10.44,-0.39],[10.34,-0.58],[10.58,-0.56],
  [10.93,-0.56],[11.14,-0.74],[9.20,-0.70],[9.29,-0.76],[9.38,-0.89],[9.11,-0.95],[9.26,-1.05],[9.48,-1.05],
  [9.48,-1.15],[9.66,-1.18],[9.72,-0.87],[9.78,-0.82],[9.88,-1.14],[9.97,-1.14],[10.07,-1.06],[10.08,-1.14],
  [10.21,-1.05],[10.54,-0.89],[10.74,-0.92],[9.13,-1.36],[9.26,-1.55],[9.31,-1.71],[9.45,-1.82],[9.47,-1.35],
  [9.54,-1.43],[9.58,-1.58],[9.65,-1.68],[9.67,-1.49],[9.66,-1.92],[9.58,-2.05],[9.89,-2.13],[9.94,-1.67],
  [10.03,-1.70],[10.07,-1.70],[10.13,-1.72],[10.21,-1.57],[10.28,-1.32],[10.35,-1.62],[10.35,-1.70],[10.35,-1.78],
  [10.44,-1.79],[10.48,-1.78],[10.45,-1.99],[10.45,-2.05],[10.41,-2.21],[10.16,-2.12],[10.04,-2.21],[10.15,-2.39],
  [10.20,-2.56],[10.27,-2.37],[10.34,-2.39],[10.41,-2.43],[10.58,-1.79],[10.61,-1.62],[10.59,-1.53],[10.68,-1.39],
  [10.71,-1.43],[10.75,-1.58],[10.80,-1.74],[10.85,-1.34],[10.86,-1.52],[10.68,-2.11],[10.81,-2.12],[10.81,-2.16],
  [10.65,-2.41],[10.96,-2.33],[11.03,-2.04],[11.06,-2.59],[11.28,-2.62],[11.29,-1.83],[10.97,-2.82],[10.62,-2.93],
  [10.79,-3.23],[11.00,-3.48],[9.07,-2.42]
];
const z1FeddQuad = [[10.09,-2.07],[10.25,-1.83],[11.05,-2.30]];
const z1FeddQuin = [];

// z=1, log MBH
const z1MbhTri = [
  [9.06,7.85],[9.11,7.04],[9.13,6.71],[9.20,6.80],[9.26,6.84],[9.27,7.02],[9.29,6.68],[9.31,7.34],[9.38,6.84],
  [9.45,7.13],[9.47,6.93],[9.48,6.84],[9.51,7.06],[9.52,6.73],[9.56,6.73],[9.57,6.86],[9.59,7.06],[9.62,6.84],
  [9.64,6.98],[9.67,7.24],[9.69,7.02],[9.77,7.32],[9.87,7.45],[9.88,7.22],[9.89,7.11],[9.98,6.89],[10.05,7.38],
  [10.07,6.65],[10.07,7.41],[10.05,7.20],[10.09,7.32],[10.12,7.65],[10.14,7.82],[10.18,7.84],[10.23,7.25],[10.27,7.46],
  [10.29,7.65],[10.34,7.08],[10.35,7.75],[10.33,8.02],[10.37,7.51],[10.38,7.63],[10.41,7.41],[10.42,7.27],[10.44,7.56],
  [10.45,7.64],[10.47,8.23],[10.49,8.10],[10.53,7.46],[10.56,7.63],[10.58,7.77],[10.61,7.88],[10.62,8.26],[10.63,7.95],
  [10.66,7.97],[10.70,7.90],[10.70,7.48],[10.73,7.68],[10.74,7.57],[10.78,8.18],[10.80,8.06],[10.81,7.51],[10.84,8.11],
  [10.86,7.56],[10.91,8.17],[10.94,8.20],[10.98,8.33],[11.01,8.44],[11.05,8.35],[11.06,8.53],[11.14,8.35],[11.29,8.52],
  [11.29,8.15],[10.17,7.38],[10.48,7.45]
];
const z1MbhQuad = [[10.09,7.64],[10.26,7.68],[11.04,8.17],[11.04,8.04]];
const z1MbhQuin = [];

// ---- layout ----
const width = 830, height = 822;
const colX = [95, 362, 628], panelW = 180;
const rowY = [66, 286.7, 507.4], panelH = 220.7;
const massDomain = [9, 12];
const massMajor = [9, 10, 11, 12];
const yDomains = [[42.5, 47], [-4.7, 0.4], [4.8, 9.55]];
const yMajor = [[43, 44, 45, 46, 47], [-4, -3, -2, -1, 0], [5, 6, 7, 8, 9]];
const yLabelPad = [12, 14, 13];
const zLabels = ["z=3", "z=2", "z=1"];

const panels = [
  [[z3LbolTri, z3LbolQuad, z3LbolQuin], [z3FeddTri, z3FeddQuad, z3FeddQuin], [z3MbhTri, z3MbhQuad, z3MbhQuin]],
  [[z2LbolTri, z2LbolQuad, z2LbolQuin], [z2FeddTri, z2FeddQuad, z2FeddQuin], [z2MbhTri, z2MbhQuad, z2MbhQuin]],
  [[z1LbolTri, z1LbolQuad, z1LbolQuin], [z1FeddTri, z1FeddQuad, z1FeddQuin], [z1MbhTri, z1MbhQuad, z1MbhQuin]]
];

const navy = "#00008b", green = "#32cd32", violet = "#ee82ee";
const intFmt = d3.format("d");

const svg = d3.select("svg");

function minorValues(domain) {
  return d3.range(Math.ceil(domain[0] * 5 - 1e-9), Math.floor(domain[1] * 5 + 1e-9) + 1).map(v => v / 5);
}

function tickSet(g, axisFn, scale, values, size) {
  g.call(axisFn(scale).tickValues(values).tickSize(-size).tickSizeOuter(0).tickFormat(""));
  g.select(".domain").remove();
  g.selectAll("line").attr("stroke", "#000").attr("stroke-width", 1.3);
}

function mathText(sel, parts, size) {
  let shift = 0;
  parts.forEach(([txt, kind]) => {
    const target = kind === "sub" ? 5 : kind === "sup" ? -8 : 0;
    sel.append("tspan")
      .attr("dy", target - shift)
      .attr("font-size", kind ? size * 0.66 : size)
      .text(txt);
    shift = target;
  });
}

const squareSym = d3.symbol().type(d3.symbolSquare).size(38);
const triSym = d3.symbol().type(d3.symbolTriangle).size(34);

panels.forEach((row, r) => {
  row.forEach((sets, c) => {
    const g = svg.append("g").attr("transform", `translate(${colX[c]},${rowY[r]})`);
    const x = d3.scaleLinear().domain(massDomain).range([0, panelW]);
    const y = d3.scaleLinear().domain(yDomains[c]).range([panelH, 0]);

    g.append("g").selectAll("path")
      .data(sets[0]).join("path")
      .attr("transform", d => `translate(${x(d[0])},${y(d[1])})`)
      .attr("d", squareSym)
      .attr("fill", "none")
      .attr("stroke", navy)
      .attr("stroke-width", 1.3);

    g.append("g").selectAll("circle")
      .data(sets[1]).join("circle")
      .attr("cx", d => x(d[0]))
      .attr("cy", d => y(d[1]))
      .attr("r", 4.4)
      .attr("fill", green);

    g.append("g").selectAll("path")
      .data(sets[2]).join("path")
      .attr("transform", d => `translate(${x(d[0])},${y(d[1])})`)
      .attr("d", triSym)
      .attr("fill", violet);

    g.append("rect")
      .attr("width", panelW).attr("height", panelH)
      .attr("fill", "none").attr("stroke", "#000").attr("stroke-width", 1.6);

    const xMinor = minorValues(massDomain), yMinor = minorValues(yDomains[c]);
    tickSet(g.append("g").attr("transform", `translate(0,${panelH})`), d3.axisBottom, x, xMinor, 6);
    tickSet(g.append("g").attr("transform", `translate(0,${panelH})`), d3.axisBottom, x, massMajor, 11);
    tickSet(g.append("g"), d3.axisTop, x, xMinor, 6);
    tickSet(g.append("g"), d3.axisTop, x, massMajor, 11);
    tickSet(g.append("g"), d3.axisLeft, y, yMinor, 6);
    tickSet(g.append("g"), d3.axisLeft, y, yMajor[c], 11);
    tickSet(g.append("g").attr("transform", `translate(${panelW},0)`), d3.axisRight, y, yMinor, 6);
    tickSet(g.append("g").attr("transform", `translate(${panelW},0)`), d3.axisRight, y, yMajor[c], 11);

    const yl = g.append("g").call(d3.axisLeft(y).tickValues(yMajor[c]).tickFormat(intFmt)
      .tickSize(0).tickPadding(yLabelPad[c]));
    yl.select(".domain").remove();
    yl.selectAll("text").attr("font-family", "DejaVu Serif").attr("font-size", 21).attr("fill", "#000");

    if (r === 2) {
      const xl = g.append("g").attr("transform", `translate(0,${panelH})`)
        .call(d3.axisBottom(x).tickValues(massMajor).tickFormat(intFmt).tickSize(0).tickPadding(15));
      xl.select(".domain").remove();
      xl.selectAll("text").attr("font-family", "DejaVu Serif").attr("font-size", 21).attr("fill", "#000");

      const xt = g.append("text")
        .attr("x", panelW / 2).attr("y", 281)
        .attr("text-anchor", "middle").attr("font-size", 21);
      mathText(xt, [["log(M"], ["gal", "sub"], ["/M"], ["\u2299", "sub"], [")"]], 21);
    }

    if (c === 0) {
      g.append("text")
        .attr("x", 16).attr("y", 41)
        .attr("font-size", 20)
        .text(zLabels[r]);
    }
  });
});

// y-axis titles
const t0 = svg.append("text").attr("transform", "translate(44,401) rotate(-90)")
  .attr("text-anchor", "middle").attr("font-size", 21);
mathText(t0, [["log(L"], ["bol", "sub"], ["/erg s"], ["\u22121", "sup"], [")"]], 21);

const t1 = svg.append("text").attr("transform", "translate(316,376) rotate(-90)")
  .attr("text-anchor", "middle").attr("font-size", 21);
mathText(t1, [["log(f"], ["Edd", "sub"], [")"]], 21);

const t2 = svg.append("text").attr("transform", "translate(585,399) rotate(-90)")
  .attr("text-anchor", "middle").attr("font-size", 21);
mathText(t2, [["log(M"], ["BH", "sub"], ["/M"], ["\u2299", "sub"], [")"]], 21);

// legend
const legendItems = [
  {label: "triple AGN", color: navy, mx: 144, my: 40.5, tx: 157, len: 116, kind: "square"},
  {label: "quadruple AGN", color: green, mx: 318, my: 41.5, tx: 329, len: 170, kind: "circle"},
  {label: "quintuple AGN", color: violet, mx: 566, my: 40, tx: 577, len: 162, kind: "triangle"}
];
const lg = svg.append("g");
legendItems.forEach(it => {
  if (it.kind === "square") {
    lg.append("path").attr("transform", `translate(${it.mx},${it.my})`)
      .attr("d", d3.symbol().type(d3.symbolSquare).size(22))
      .attr("fill", "none").attr("stroke", it.color).attr("stroke-width", 1.3);
  } else if (it.kind === "circle") {
    lg.append("circle").attr("cx", it.mx).attr("cy", it.my).attr("r", 3.2).attr("fill", it.color);
  } else {
    lg.append("path").attr("transform", `translate(${it.mx},${it.my})`)
      .attr("d", d3.symbol().type(d3.symbolTriangle).size(20)).attr("fill", it.color);
  }
  lg.append("text")
    .attr("x", it.tx).attr("y", 42)
    .attr("font-family", "DejaVu Serif")
    .attr("font-size", 19)
    .attr("textLength", it.len)
    .attr("lengthAdjust", "spacing")
    .attr("fill", it.color)
    .text(it.label);
});
</script>
</body>
</html>
